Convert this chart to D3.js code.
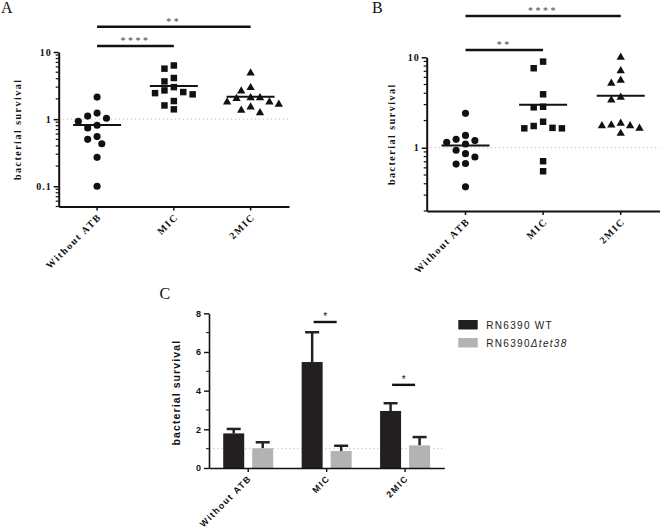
<!DOCTYPE html>
<html><head><meta charset="utf-8">
<script src="https://cdn.jsdelivr.net/npm/d3@7"></script>
<style>body{margin:0;background:#fff} svg{display:block}</style>
</head><body>
<svg id="chart" width="660" height="530"></svg>
<script>
// ---------- data ----------
const categories = ["Without ATB", "MIC", "2MIC"];
const aWithout = [2.13, 1.23, 1.11, 1.03, 0.93, 0.81, 0.74, 0.55, 0.50, 0.43, 0.27, 0.10];
const aMIC     = [6.3, 5.65, 4.1, 3.65, 3.0, 2.68, 2.53, 2.44, 2.34, 1.86, 1.6, 1.4];
const a2MIC    = [4.86, 2.94, 2.62, 2.08, 2.08, 2.02, 1.79, 1.79, 1.66, 1.51, 1.35, 1.24];
const bWithout = [2.40, 1.37, 1.24, 1.20, 1.15, 1.10, 0.94, 0.86, 0.79, 0.67, 0.66, 0.37];
const bMIC     = [8.96, 7.57, 3.90, 2.84, 2.80, 1.94, 1.74, 1.66, 1.64, 1.64, 0.71, 0.55];
const b2MIC    = [10.0, 7.07, 5.57, 5.16, 3.61, 3.37, 1.86, 1.78, 1.75, 1.75, 1.64, 1.44];
const aTicks = [0.1, 1, 10];
const bTicks = [1, 10];
const aSig = [{from: "Without ATB", to: "MIC", label: "****"}, {from: "Without ATB", to: "2MIC", label: "**"}];
const bSig = [{from: "Without ATB", to: "MIC", label: "**"}, {from: "Without ATB", to: "2MIC", label: "****"}];
const cSeries = ["RN6390 WT", "RN6390\u0394tet38"];
const cWT    = [1.79, 5.48, 2.95];
const cWTsem = [0.23, 1.54, 0.40];
const cKO    = [1.02, 0.88, 1.17];
const cKOsem = [0.31, 0.27, 0.43];
const cTicks = [0, 2, 4, 6, 8];
const cSig = [{cat: "MIC", y: 7.55, label: "*"}, {cat: "2MIC", y: 4.3, label: "*"}];

// ---------- setup ----------
const svg = d3.select("#chart");
const SERIF = "'Liberation Serif','Times New Roman',serif";
const SANS = "'Liberation Sans',Arial,sans-serif";

function swarm(values, y, step, diam) {
  const placed = [];
  const off = new Array(values.length);
  const order = values.map((v, i) => i).sort((a, b) => values[b] - values[a]);
  for (const i of order) {
    const py = y(values[i]);
    for (let k = 0; k < 60; k++) {
      const c = k === 0 ? 0 : (k % 2 ? -Math.ceil(k / 2) : Math.ceil(k / 2)) * step;
      if (placed.every(p => Math.hypot(p.x - c, p.y - py) >= diam)) {
        off[i] = c; placed.push({x: c, y: py}); break;
      }
    }
  }
  return off;
}

function scatterPanel(cfg) {
  const g = svg.append("g");
  const x = d3.scaleBand().domain(categories).range([cfg.x0, cfg.x1]);
  const y = d3.scaleLog().domain(cfg.domain).range([cfg.y1, cfg.y0]);
  const cx = c => x(c) + x.bandwidth() / 2;

  // dotted reference at 1
  g.append("line").attr("x1", cfg.x0).attr("x2", cfg.x1).attr("y1", y(1)).attr("y2", y(1))
    .attr("stroke", "#c8c8c8").attr("stroke-width", 1).attr("stroke-dasharray", "1.5,2.5");

  // y axis
  const ya = g.append("g").attr("transform", `translate(${cfg.x0},0)`)
    .call(d3.axisLeft(y).tickValues(cfg.ticks).tickFormat(d => d3.format("~g")(d)).tickSize(5).tickPadding(2).tickSizeOuter(0));
  const minor = y.ticks().filter(t => !cfg.ticks.some(m => Math.abs(m - t) < 1e-9));
  ya.selectAll(".minor").data(minor).enter().append("line").attr("class", "minor")
    .attr("x1", 0).attr("x2", -3).attr("y1", d => y(d)).attr("y2", d => y(d)).attr("stroke", "#111").attr("stroke-width", 1.2);
  ya.select(".domain").attr("stroke", "#111").attr("stroke-width", 2);
  ya.selectAll(".tick line").attr("stroke", "#111").attr("stroke-width", 1.5);
  ya.selectAll(".tick text").attr("font-family", SERIF).attr("font-weight", "bold").attr("font-size", 10)
    .attr("letter-spacing", 1).attr("fill", "#111");

  // x axis
  const xa = g.append("g").attr("transform", `translate(0,${cfg.y1})`)
    .call(d3.axisBottom(x).tickSize(4).tickSizeOuter(0).tickFormat(""));
  xa.select(".domain").attr("stroke", "#111").attr("stroke-width", 2);
  xa.selectAll(".tick line").attr("stroke", "#111").attr("stroke-width", 1.5);
  g.selectAll(".xl").data(categories).enter().append("text")
    .attr("transform", d => `translate(${cx(d) + 5},${cfg.y1 + 11}) rotate(-45)`)
    .attr("text-anchor", "end").attr("font-family", SERIF).attr("font-weight", "bold")
    .attr("font-size", 10).attr("letter-spacing", 1.5).attr("fill", "#111").text(d => d);

  // y label
  g.append("text").attr("transform", `translate(${cfg.labelX},${(cfg.y0 + cfg.y1) / 2}) rotate(-90)`)
    .attr("text-anchor", "middle").attr("font-family", SERIF).attr("font-weight", "bold")
    .attr("font-size", 10).attr("letter-spacing", 1.5).attr("fill", "#111").text("bacterial survival");

  // points
  const shapes = [d3.symbolCircle, d3.symbolSquare, d3.symbolTriangle];
  const sizes = [40, 42, 30];
  cfg.series.forEach((vals, si) => {
    const c = categories[si];
    const off = swarm(vals, y, 4.7, 8.2);
    g.selectAll(null).data(vals).enter().append("path")
      .attr("d", d3.symbol().type(shapes[si]).size(sizes[si]))
      .attr("transform", (d, i) => `translate(${cx(c) + off[i]},${y(d)})`)
      .attr("fill", "#111");
    const m = d3.mean(vals);
    g.append("line").attr("x1", cx(c) - 24).attr("x2", cx(c) + 24).attr("y1", y(m)).attr("y2", y(m))
      .attr("stroke", "#111").attr("stroke-width", 2);
  });

  // significance
  cfg.sig.forEach((s, i) => {
    const yy = cfg.sigY[i];
    g.append("line").attr("x1", cx(s.from)).attr("x2", cx(s.to)).attr("y1", yy).attr("y2", yy)
      .attr("stroke", "#111").attr("stroke-width", 2.6);
    g.append("text").attr("x", (cx(s.from) + cx(s.to)) / 2).attr("y", yy - 2)
      .attr("text-anchor", "middle").attr("font-family", SERIF).attr("font-size", 10)
      .attr("letter-spacing", 2.5).attr("fill", "#444").text(s.label);
  });

  // panel letter
  svg.append("text").attr("x", cfg.letterX).attr("y", cfg.letterY).attr("font-family", SERIF)
    .attr("font-size", 16).attr("fill", "#111").text(cfg.letter);
}

scatterPanel({x0: 58.7, x1: 289, y0: 52, y1: 206.5, domain: [0.05, 10], ticks: aTicks,
  series: [aWithout, aMIC, a2MIC], sig: aSig, sigY: [46, 26.7], labelX: 21, letter: "A", letterX: 1, letterY: 13});
scatterPanel({x0: 426.7, x1: 659.5, y0: 57.3, y1: 211, domain: [0.2, 10], ticks: bTicks,
  series: [bWithout, bMIC, b2MIC], sig: bSig, sigY: [50, 16], labelX: 394.5, letter: "B", letterX: 372, letterY: 13});

// ---------- panel C ----------
(function () {
  const g = svg.append("g");
  const X0 = 209, X1 = 444.3, Y0 = 313.3, Y1 = 468;
  const x = d3.scaleBand().domain(categories).range([X0, X1]);
  const x1 = d3.scaleBand().domain(cSeries).range([-25, 25]).paddingInner(0.276);
  const y = d3.scaleLinear().domain([0, 8]).range([Y1, Y0]);
  const cx = c => x(c) + x.bandwidth() / 2;
  const colors = ["#231f20", "#b3b3b3"];

  g.append("line").attr("x1", X0).attr("x2", X1).attr("y1", y(1)).attr("y2", y(1))
    .attr("stroke", "#c8c8c8").attr("stroke-width", 1).attr("stroke-dasharray", "1.5,2.5");

  const series = [{name: cSeries[0], v: cWT, e: cWTsem}, {name: cSeries[1], v: cKO, e: cKOsem}];
  series.forEach((s, si) => {
    categories.forEach((c, ci) => {
      const bx = cx(c) + x1(s.name);
      const mid = bx + x1.bandwidth() / 2;
      g.append("line").attr("x1", mid).attr("x2", mid).attr("y1", y(s.v[ci])).attr("y2", y(s.v[ci] + s.e[ci]))
        .attr("stroke", "#222").attr("stroke-width", 2.5);
      g.append("line").attr("x1", mid - 7).attr("x2", mid + 7).attr("y1", y(s.v[ci] + s.e[ci])).attr("y2", y(s.v[ci] + s.e[ci]))
        .attr("stroke", "#222").attr("stroke-width", 2.5);
      g.append("rect").attr("x", bx).attr("width", x1.bandwidth()).attr("y", y(s.v[ci]))
        .attr("height", y(0) - y(s.v[ci])).attr("fill", colors[si]);
    });
  });

  const ya = g.append("g").attr("transform", `translate(${X0},0)`)
    .call(d3.axisLeft(y).tickValues(cTicks).tickSize(5).tickPadding(3).tickSizeOuter(0));
  ya.selectAll(".minor").data([1, 3, 5, 7]).enter().append("line").attr("class", "minor")
    .attr("x1", 0).attr("x2", -3).attr("y1", d => y(d)).attr("y2", d => y(d)).attr("stroke", "#111").attr("stroke-width", 1);
  ya.select(".domain").attr("stroke", "#111").attr("stroke-width", 1.6);
  ya.selectAll(".tick line").attr("stroke", "#111").attr("stroke-width", 1.4);
  ya.selectAll(".tick text").attr("font-family", SANS).attr("font-weight", "bold").attr("font-size", 9).attr("fill", "#111");

  const xa = g.append("g").attr("transform", `translate(0,${Y1})`)
    .call(d3.axisBottom(x).tickSize(4).tickSizeOuter(0).tickFormat(""));
  xa.select(".domain").attr("stroke", "#111").attr("stroke-width", 1.6);
  xa.selectAll(".tick line").attr("stroke", "#111").attr("stroke-width", 1.4);
  g.selectAll(".xl").data(categories).enter().append("text")
    .attr("transform", d => `translate(${cx(d) + 4},${Y1 + 11}) rotate(-45)`)
    .attr("text-anchor", "end").attr("font-family", SANS).attr("font-weight", "bold")
    .attr("font-size", 9).attr("letter-spacing", 1.4).attr("fill", "#111").text(d => d);

  g.append("text").attr("transform", `translate(180,${(Y0 + Y1) / 2 + 2}) rotate(-90)`)
    .attr("text-anchor", "middle").attr("font-family", SANS).attr("font-weight", "bold")
    .attr("font-size", 10.5).attr("letter-spacing", 1.1).attr("fill", "#111").text("bacterial survival");

  cSig.forEach(s => {
    const c = cx(s.cat);
    g.append("line").attr("x1", c - 13).attr("x2", c + 10).attr("y1", y(s.y)).attr("y2", y(s.y))
      .attr("stroke", "#111").attr("stroke-width", 2.4);
    g.append("text").attr("x", c - 1.5).attr("y", y(s.y) - 2).attr("text-anchor", "middle")
      .attr("font-family", SANS).attr("font-size", 10).attr("fill", "#111").text(s.label);
  });

  // legend
  const lg = g.append("g").attr("transform", "translate(458.3,320)");
  series.forEach((s, i) => {
    const row = lg.append("g").attr("transform", `translate(0,${i * 18})`);
    row.append("rect").attr("width", 19.4).attr("height", 9.5).attr("fill", colors[i]);
    const t = row.append("text").attr("x", 28).attr("y", 8.5).attr("font-family", SANS)
      .attr("font-size", 10).attr("letter-spacing", 1.3).attr("fill", "#222");
    const m = s.name.indexOf("\u0394");
    if (m < 0) t.text(s.name);
    else {
      t.append("tspan").text(s.name.slice(0, m));
      t.append("tspan").attr("font-style", "italic").text(s.name.slice(m));
    }
  });

  svg.append("text").attr("x", 159.5).attr("y", 298.5).attr("font-family", SERIF)
    .attr("font-size", 16).attr("fill", "#111").text("C");
})();
</script>
</body></html>
